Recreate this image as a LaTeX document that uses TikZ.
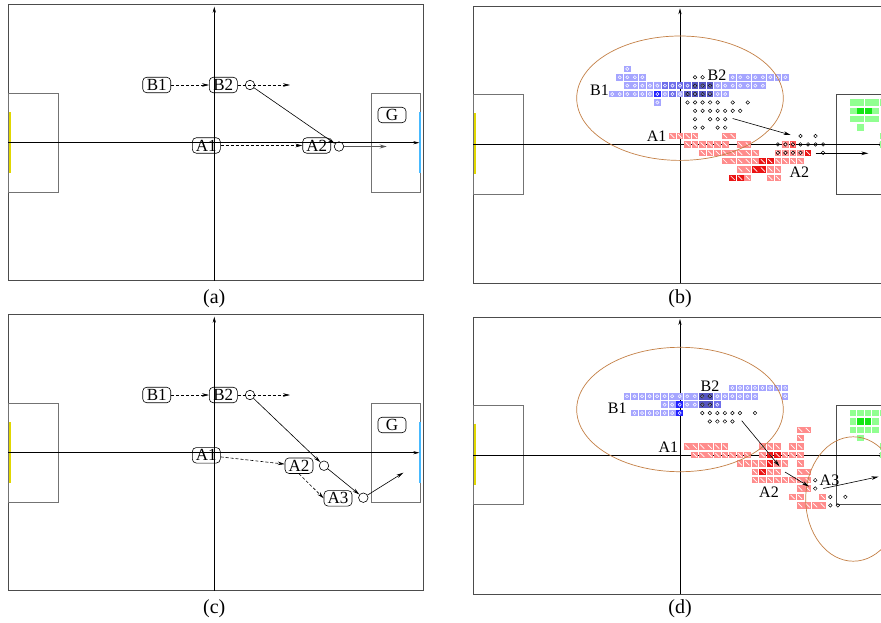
\documentclass[tikz,border=0pt]{standalone}
\usepackage{fontspec}
\setmainfont{Liberation Serif}
\usetikzlibrary{arrows.meta}
\definecolor{brn}{RGB}{196,128,70}
\definecolor{lblue}{RGB}{165,165,255}
\definecolor{mblue}{RGB}{110,110,235}
\definecolor{dblue}{RGB}{85,85,195}
\definecolor{bblue}{RGB}{35,35,255}
\definecolor{lred}{RGB}{255,140,140}
\definecolor{mred}{RGB}{255,85,85}
\definecolor{dred}{RGB}{235,20,20}
\definecolor{lgreen}{RGB}{145,255,145}
\definecolor{dgreen}{RGB}{20,230,20}
\definecolor{fieldline}{gray}{0.3}
\definecolor{boxline}{gray}{0.45}
\definecolor{goalyellow}{RGB}{225,215,0}
\definecolor{goalblue}{RGB}{70,185,255}
\tikzset{
 lbl/.style={draw, rounded corners=4pt, minimum width=28pt, minimum height=15.5pt, inner sep=0pt, font=\fontsize{17}{17}\selectfont, line width=0.6pt},
 lbltext/.style={inner sep=0pt, font=\fontsize{16}{16}\selectfont},
 captext/.style={inner sep=0pt, font=\fontsize{20}{20}\selectfont},
 ball/.style={draw, circle, minimum size=9.5pt, inner sep=0pt, line width=0.6pt},
 arr/.style={-{Stealth[length=7pt,width=3.6pt]}, line width=0.6pt},
 dsh/.style={arr, dash pattern=on 3pt off 2pt},
 fieldframe/.style={draw=fieldline, line width=0.9pt},
 pbox/.style={draw=boxline, line width=0.9pt},
 axisline/.style={-{Stealth[length=6pt,width=3.2pt]}, line width=0.6pt},
 ell/.style={draw=brn, line width=0.7pt},
 ygoal/.style={draw=goalyellow, line width=1.5pt},
 bgoal/.style={draw=goalblue, line width=1.3pt},
}
\newcommand\mybcell[3]{\fill[#1] (#2,#3) ++(-3.35pt,-3.25pt) rectangle ++(6.7pt,6.5pt);
  \draw[white,line width=0.5pt] (#2,#3) circle[radius=1.6pt];}
\newcommand\myrcell[3]{\fill[#1] (#2,#3) ++(-3.35pt,-3.25pt) rectangle ++(6.7pt,6.5pt);
  \draw[white,line width=0.7pt] (#2,#3) ++(-2pt,2pt) -- ++(4pt,-4pt);}
\newcommand\mygcell[3]{\fill[#1] (#2,#3) ++(-3.35pt,-3.25pt) rectangle ++(6.7pt,6.5pt);}
\newcommand\mydot[2]{\draw[line width=0.5pt] (#1,#2) circle[radius=1.8pt];}
\newcommand\pitchAC{%
  \draw[fieldframe] (8.3,4.3) rectangle (423.3,280.7);
  \draw[pbox] (8.3,93.3) rectangle (58.3,192.3);
  \draw[pbox] (371,93.3) rectangle (420.7,192.3);
  \draw[ygoal] (10,112.3) -- (10,173.3);
  \draw[bgoal] (420,112.3) -- (420,173.3);
  \coordinate (hl) at (8.3,142.7); \coordinate (hr) at (419.3,142.7);
  \coordinate (vb) at (214.3,280.7); \coordinate (vt) at (214.3,6.7);
  \draw[axisline] (hl) -- (hr);
  \draw[axisline] (vb) -- (vt);
  \node[lbl] (nB1) at (156.7,85) {B1};
  \node[lbl] (nB2) at (223.3,85) {B2};
  \node[ball] (nO1) at (250,85) {};
  \coordinate (nO1e) at (290,85);
  \node[lbl] (nG) at (392,115) {G};
  \draw[dsh] (nB1) -- (nB2);
  \draw[dsh] (nB2.east) -- (nO1e);
}
\newcommand\pitchBD{%
  \draw[fieldframe] (473.3,6.3) rectangle (887,283.3);
  \draw[pbox] (473.3,94.3) rectangle (523.3,194);
  \draw[fieldframe] (836.7,94.3) rectangle (886.7,194);
  \draw[ygoal] (475,113) -- (475,174);
  \coordinate (hl) at (473.3,144.3); \coordinate (hr) at (885,144.3);
  \coordinate (vb) at (680,283.3); \coordinate (vt) at (680,8.3);
  \draw[axisline] (hl) -- (hr);
  \draw[axisline] (vb) -- (vt);
}
\newcommand\greens{%
  \foreach \j/\a/\b in {-5/23/27, -4/23/23, -4/26/26, -3/23/26, -2/24/24, -1/27/27, 0/27/27}
    {\foreach \i in {\a,...,\b} {\mygcell{lgreen}{\i}{\j}}}
  \foreach \i in {24,25} {\mygcell{dgreen}{\i}{-4}}
}
\begin{document}
\begin{tikzpicture}[x=1pt,y=-1pt]
\useasboundingbox (0,0) rectangle (881,622);
\clip (0,0) rectangle (881,622);
\fill[white] (0,0) rectangle (881,622);

% ---------------- (a)
\pitchAC
\node[lbl] (aA1) at (206.3,145.5) {A1};
\node[lbl] (aA2) at (316.7,145.5) {A2};
\node[ball] (aO2) at (339,146.5) {};
\coordinate (aO2e) at (386.7,146.5);
\draw[dsh] (aA1.east) -- (aA2.west);
\draw[arr] (nO1) -- (aO2);
\draw[-{Stealth[length=7pt,width=4pt]}, line width=1.5pt, black!65] (aO2) -- (aO2e);
\node[captext] (capa) at (214.3,298.5) {(a)};

% ---------------- (c)
\begin{scope}[yshift=-310pt]
\pitchAC
\end{scope}
\node[lbl] (cA1) at (206.3,455.3) {A1};
\node[lbl] (cA2) at (299,465.7) {A2};
\node[ball] (cO2) at (324,465.7) {};
\node[lbl] (cA3) at (338,498.3) {A3};
\node[ball] (cO3) at (363.3,497.7) {};
\coordinate (cO3e) at (403.3,472.7);
\draw[dsh] (cA1) -- (cA2);
\draw[dsh] (cA2.south) -- (cA3.west);
\draw[arr] (nO1) -- (cO2);
\draw[arr] (cO2) -- (cO3);
\draw[arr] (cO3) -- (cO3e);
\node[captext] (capc) at (214.3,608.5) {(c)};

% ---------------- (b)
\pitchBD
\begin{scope}[shift={(680pt,-144.4pt)}, x=7.53pt, y=-8.39pt]
  \foreach \j/\a/\b in {-9/-7/-7, -8/-8/-5, -8/7/14, -7/-7/-3, -7/5/11, -6/-9/-4, -6/-2/-2, -6/0/0, -6/5/6, -5/-3/-3}
    {\foreach \i in {\a,...,\b} {\mybcell{lblue}{\i}{\j}}}
  \foreach \j/\a/\b in {-7/-2/1, -6/-1/-1}
    {\foreach \i in {\a,...,\b} {\mybcell{mblue}{\i}{\j}}}
  \foreach \j/\a/\b in {-7/2/4, -6/1/4}
    {\foreach \i in {\a,...,\b} {\mybcell{dblue}{\i}{\j}}}
  \mybcell{bblue}{-3}{-6}
  \foreach \j/\a/\b in {-1/-1/2, -1/6/7, 0/1/6, 0/8/9, 0/14/14, 1/3/10, 1/13/16, 2/6/10, 2/13/16, 3/8/9, 3/12/13, 4/9/9, 4/12/13}
    {\foreach \i in {\a,...,\b} {\myrcell{lred}{\i}{\j}}}
  \myrcell{mred}{15}{0}
  \foreach \j/\a/\b in {1/17/17, 2/11/12, 3/10/11, 4/7/8}
    {\foreach \i in {\a,...,\b} {\myrcell{dred}{\i}{\j}}}
  \greens
  \foreach \j/\a/\b in {-8/2/3, -7/2/4, -6/1/4, -5/1/5, -5/7/7, -5/9/9, -4/2/8, -3/2/2, -3/4/6, -2/2/3, -2/5/6, -1/16/16, -1/18/18, 0/13/19, 1/13/16, 1/19/19}
    {\foreach \i in {\a,...,\b} {\mydot{\i}{\j}}}
\end{scope}
\draw[ell] (680,98.2) ellipse [x radius=103.3, y radius=62.2];
\node[lbltext] (bB1) at (599.5,90) {B1};
\node[lbltext] (bB2) at (717,75) {B2};
\node[lbltext] (bA1) at (656.7,136) {A1};
\node[lbltext] (bA2) at (799.3,171.7) {A2};
\coordinate (bs1) at (732.7,118.5); \coordinate (be1) at (790.7,135);
\coordinate (bs2) at (815.5,153.3); \coordinate (be2) at (868.3,153.3);
\draw[arr] (bs1) -- (be1);
\draw[arr] (bs2) -- (be2);
\node[captext] (capb) at (680,298.5) {(b)};

% ---------------- (d)
\begin{scope}[yshift=-310.7pt]
\pitchBD
\end{scope}
\begin{scope}[shift={(679.7pt,-455pt)}, x=7.53pt, y=-8.39pt]
  \foreach \j/\a/\b in {-8/7/14, -7/-7/2, -7/5/10, -7/14/14, -6/-2/-1, -6/1/2, -5/-6/-1}
    {\foreach \i in {\a,...,\b} {\mybcell{lblue}{\i}{\j}}}
  \mybcell{mblue}{5}{-6}
  \foreach \j/\a/\b in {-7/3/4, -6/3/4}
    {\foreach \i in {\a,...,\b} {\mybcell{dblue}{\i}{\j}}}
  \mybcell{bblue}{0}{-6}
  \mybcell{bblue}{0}{-5}
  \foreach \j/\a/\b in {-3/16/17, -2/16/16, -1/1/6, -1/11/13, -1/15/16, 0/2/9, 0/11/11, 0/14/16, 1/8/11, 1/13/14, 1/16/16, 2/10/10, 2/12/13, 2/16/17, 3/10/17, 4/16/17, 5/15/16, 5/19/19, 6/16/19}
    {\foreach \i in {\a,...,\b} {\myrcell{lred}{\i}{\j}}}
  \foreach \j/\a/\b in {0/12/13, 1/12/12, 2/11/11}
    {\foreach \i in {\a,...,\b} {\myrcell{dred}{\i}{\j}}}
  \greens
  \foreach \j/\a/\b in {-7/3/4, -6/3/4, -5/3/8, -5/10/10, -4/4/7, 3/18/18, 4/18/18, 5/20/20, 5/22/22, 6/20/21}
    {\foreach \i in {\a,...,\b} {\mydot{\i}{\j}}}
\end{scope}
\draw[ell] (680,409.5) ellipse [x radius=103.3, y radius=62.2];
\draw[ell] (853.3,499) ellipse [x radius=47.6, y radius=62.2];
\node[lbltext] (dB1) at (617.3,408.5) {B1};
\node[lbltext] (dB2) at (710,386) {B2};
\node[lbltext] (dA1) at (668.3,447.5) {A1};
\node[lbltext] (dA2) at (769,492.5) {A2};
\node[lbltext] (dA3) at (829.5,480) {A3};
\coordinate (ds1) at (741.7,420.7); \coordinate (de1) at (779.5,466.3);
\coordinate (ds2) at (785,472); \coordinate (de2) at (809,486.5);
\coordinate (ds3) at (823.3,488.5); \coordinate (de3) at (878.5,476.7);
\draw[arr] (ds1) -- (de1);
\draw[arr] (ds2) -- (de2);
\draw[arr] (ds3) -- (de3);
\node[captext] (capd) at (680,608.5) {(d)};
\end{tikzpicture}
\end{document}
